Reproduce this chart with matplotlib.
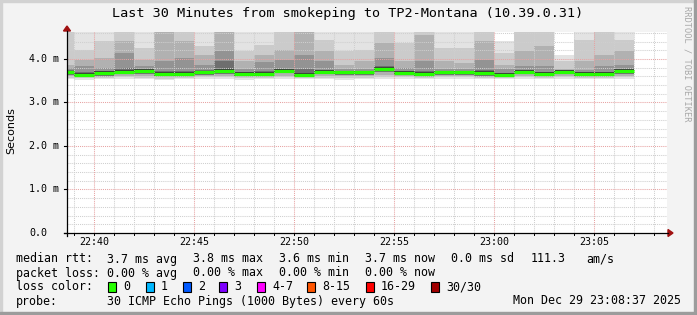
import matplotlib
matplotlib.use("Agg")
import matplotlib.pyplot as plt
from matplotlib.patches import Polygon, Rectangle
from matplotlib.lines import Line2D

W, H = 697, 315

# one column per minute, starting 22:38 (minutes after 22:00)
col_start = list(range(38, 67))

median = [3.69, 3.63, 3.67, 3.71, 3.73, 3.65, 3.65, 3.69, 3.72, 3.66, 3.66, 3.73, 3.64, 3.70, 3.69,
          3.69, 3.78, 3.67, 3.65, 3.69, 3.69, 3.67, 3.63, 3.70, 3.66, 3.70, 3.65, 3.65, 3.72]

# smoke bands, outer to inner (upper edges), ms
hi1 = [4.90, 4.90, 4.90, 4.90, 4.90, 5.00, 4.90, 4.90, 5.00, 4.90, 4.90, 4.90, 5.00, 4.90, 4.90,
       4.90, 4.90, 4.90, 4.90, 4.90, 4.90, 4.90, 4.41, 4.90, 4.90, 4.10, 4.90, 4.90, 4.90]
hi2 = [4.80, 4.21, 4.41, 4.80, 4.25, 4.90, 4.80, 4.29, 4.90, 4.18, 4.33, 4.80, 4.90, 4.44, 4.18,
       4.21, 4.80, 4.37, 4.80, 4.25, 4.25, 4.80, 4.14, 4.80, 4.80, 3.95, 4.44, 4.80, 4.44]
hi3 = [3.87, 3.98, 4.02, 4.41, 3.98, 4.80, 4.41, 4.10, 4.80, 3.95, 4.10, 4.21, 4.80, 4.18, 3.87,
       3.95, 4.37, 3.95, 4.56, 3.95, 3.91, 4.41, 3.87, 4.18, 4.29, 3.76, 3.95, 4.10, 4.18]
hi4 = [3.80, 3.85, 3.80, 4.14, 3.83, 3.95, 4.02, 3.87, 4.18, 3.78, 3.93, 3.98, 4.10, 3.95, 3.78,
       3.78, 4.02, 3.80, 3.95, 3.78, 3.78, 3.98, 3.76, 3.83, 3.83, 3.75, 3.75, 3.83, 3.87]
hi5 = [3.74, 3.70, 3.72, 3.80, 3.77, 3.72, 3.72, 3.74, 3.95, 3.71, 3.72, 3.78, 3.78, 3.75, 3.73,
       3.73, 3.85, 3.72, 3.72, 3.73, 3.72, 3.75, 3.68, 3.74, 3.71, 3.74, 3.69, 3.70, 3.78]
# lower edges
lo1 = [3.54, 3.52, 3.54, 3.55, 3.53, 3.51, 3.53, 3.55, 3.55, 3.52, 3.53, 3.55, 3.53, 3.54, 3.51,
       3.54, 3.55, 3.55, 3.53, 3.55, 3.55, 3.54, 3.53, 3.55, 3.54, 3.55, 3.54, 3.55, 3.55]
lo2 = [3.57, 3.56, 3.57, 3.58, 3.57, 3.55, 3.56, 3.58, 3.58, 3.56, 3.56, 3.58, 3.56, 3.57, 3.56,
       3.57, 3.59, 3.58, 3.56, 3.58, 3.58, 3.57, 3.56, 3.58, 3.57, 3.58, 3.57, 3.57, 3.58]
lo3 = [3.60, 3.58, 3.59, 3.61, 3.61, 3.58, 3.58, 3.60, 3.61, 3.59, 3.59, 3.62, 3.58, 3.60, 3.60,
       3.60, 3.63, 3.60, 3.58, 3.60, 3.60, 3.59, 3.58, 3.61, 3.59, 3.61, 3.59, 3.59, 3.62]
lo4 = [3.63, 3.60, 3.62, 3.65, 3.66, 3.61, 3.61, 3.64, 3.66, 3.62, 3.62, 3.67, 3.60, 3.65, 3.64,
       3.64, 3.70, 3.63, 3.61, 3.64, 3.64, 3.62, 3.59, 3.65, 3.62, 3.65, 3.61, 3.61, 3.66]

band_colors = ["#e3e3e3", "#cbcbcb", "#b1b1b1", "#939393", "#6e6e6e"]
RIM = 0.045

x_ticks = [40, 45, 50, 55, 60, 65]
x_labels = ["22:40", "22:45", "22:50", "22:55", "23:00", "23:05"]
y_ticks = [0.0, 1.0, 2.0, 3.0, 4.0]
y_labels = ["0.0", "1.0 m", "2.0 m", "3.0 m", "4.0 m"]

loss_labels = ["0", "1", "2", "3", "4-7", "8-15", "16-29", "30/30"]
loss_colors = ["#26ff00", "#00b8ff", "#0059ff", "#7e00ff", "#ff00ff", "#ff5500", "#ff0000", "#a10000"]

stats_rtt = ["3.7 ms avg", "3.8 ms max", "3.6 ms min", "3.7 ms now", "0.0 ms sd", "111.3", "am/s"]
stats_loss = ["0.00 % avg", "0.00 % max", "0.00 % min", "0.00 % now"]

MONO = "DejaVu Sans Mono"


def fx(px):
    return px / W


def fy(py):
    return 1 - py / H


fig = plt.figure(figsize=(W / 100, H / 100), dpi=100, facecolor="#f3f3f3")

# frame shading
fig.patches.append(Rectangle((0, fy(2)), 1, 2 / H, transform=fig.transFigure, color="#d2d2d2", zorder=0))
fig.patches.append(Rectangle((0, 0), 2 / W, 1, transform=fig.transFigure, color="#d2d2d2", zorder=0))
fig.patches.append(Rectangle((fx(694), 0), 3 / W, 1, transform=fig.transFigure, color="#9c9c9c", zorder=0))
fig.patches.append(Rectangle((0, 0), 1, 3 / H, transform=fig.transFigure, color="#9c9c9c", zorder=0))

x0, x1, y0, y1 = 67, 667, 32, 233
ax = fig.add_axes([fx(x0), fy(y1), (x1 - x0) / W, (y1 - y0) / H])
ax.set_facecolor("white")
xmin, xmax = 38.65, 68.65
ymax = 4.62
ax.set_xlim(xmin, xmax)
ax.set_ylim(0, ymax)
for s in ax.spines.values():
    s.set_visible(False)
ax.set_xticks([])
ax.set_yticks([])

# smoke
his = [hi1, hi2, hi3, hi4, hi5]
los = [lo1, lo2, lo3, lo4, lo4]
for k in range(5):
    bottoms = los[k]
    heights = [h - b for h, b in zip(his[k], bottoms)]
    ax.bar(col_start, heights, width=1, bottom=bottoms, align="edge",
           color=band_colors[k], lw=0, zorder=2)
ax.bar(col_start, [2 * RIM] * len(median), width=1, bottom=[m - RIM for m in median],
       align="edge", color="#3a3a3a", lw=0, zorder=3)

# grid drawn over the smoke, like rrdtool
dots = (0, (1, 1))
for m in range(39, 69):
    if m % 5 == 0:
        continue
    ax.axvline(m, color="#cfcfcf", lw=0.75, ls=dots, zorder=4)
for i in range(1, 24):
    v = i * 0.2
    if abs(v - round(v)) < 1e-6:
        continue
    ax.axhline(v, color="#cfcfcf", lw=0.75, ls=dots, zorder=4)
for t in x_ticks:
    ax.axvline(t, color="#e7a3a3", lw=0.75, ls=dots, zorder=4)
for v in y_ticks[1:]:
    ax.axhline(v, color="#e7a3a3", lw=0.75, ls=dots, zorder=4)

ax.hlines(median, col_start, [c + 1 for c in col_start], color="#26ff00", lw=2.3, zorder=5)

# axes lines and arrows
fig.lines.append(Line2D([fx(64), fx(668)], [fy(233), fy(233)], transform=fig.transFigure, color="black", lw=0.9))
fig.lines.append(Line2D([fx(67), fx(67)], [fy(236), fy(31)], transform=fig.transFigure, color="black", lw=0.9))
fig.patches.append(Polygon([[fx(668), fy(229.5)], [fx(668), fy(236.5)], [fx(673), fy(233)]],
                           closed=True, transform=fig.transFigure, color="#a01010"))
fig.patches.append(Polygon([[fx(63.5), fy(31)], [fx(70.5), fy(31)], [fx(67), fy(26)]],
                           closed=True, transform=fig.transFigure, color="#a01010"))

# tick labels and tick marks
for t, lab in zip(x_ticks, x_labels):
    px = x0 + (t - xmin) / (xmax - xmin) * (x1 - x0)
    fig.text(fx(px), fy(242), lab, ha="center", va="center", family=MONO, fontsize=7.2)
for m in range(39, 69):
    px = x0 + (m - xmin) / (xmax - xmin) * (x1 - x0)
    fig.lines.append(Line2D([fx(px), fx(px)], [fy(233), fy(235)], transform=fig.transFigure, color="black", lw=0.7))
for v, lab in zip(y_ticks, y_labels):
    py = y1 - v / ymax * (y1 - y0)
    fig.text(fx(29), fy(py), lab, ha="left", va="center", family=MONO, fontsize=7.2)
    fig.lines.append(Line2D([fx(64), fx(67)], [fy(py), fy(py)], transform=fig.transFigure, color="black", lw=0.8))

fig.text(fx(11), fy(131), "Seconds", rotation=90, ha="center", va="center", fontsize=8)
fig.text(fx(348), fy(14), "Last 30 Minutes from smokeping to TP2-Montana (10.39.0.31)",
         ha="center", va="center", family=MONO, fontsize=9.7)
fig.text(fx(687), fy(6), "RRDTOOL / TOBI OETIKER", rotation=270, ha="center", va="top",
         family=MONO, fontsize=6.2, color="#a8a8a8")

# legend
LF = 8.4
fig.text(fx(16), fy(259), "median rtt:", ha="left", va="center", family=MONO, fontsize=LF)
for s, px in zip(stats_rtt, [107, 193, 279, 365, 451, 531, 586]):
    fig.text(fx(px), fy(259), s, ha="left", va="center", family=MONO, fontsize=LF)
fig.text(fx(16), fy(273), "packet loss:", ha="left", va="center", family=MONO, fontsize=LF)
for s, px in zip(stats_loss, [107, 193, 279, 365]):
    fig.text(fx(px), fy(273), s, ha="left", va="center", family=MONO, fontsize=LF)
fig.text(fx(16), fy(287), "loss color:", ha="left", va="center", family=MONO, fontsize=LF)
box_x = [108, 146, 183, 219, 257, 307, 366, 431]
for lab, c, bx in zip(loss_labels, loss_colors, box_x):
    fig.patches.append(Rectangle((fx(bx), fy(292)), 8 / W, 10 / H, transform=fig.transFigure,
                                 facecolor=c, edgecolor="black", lw=0.8))
    fig.text(fx(bx + 15), fy(287), lab, ha="left", va="center", family=MONO, fontsize=LF)
fig.text(fx(16), fy(301), "probe:", ha="left", va="center", family=MONO, fontsize=LF)
fig.text(fx(107), fy(301), "30 ICMP Echo Pings (1000 Bytes) every 60s", ha="left", va="center",
         family=MONO, fontsize=LF)
fig.text(fx(681), fy(301), "Mon Dec 29 23:08:37 2025", ha="right", va="center", family=MONO, fontsize=LF)

fig.savefig("out.png", dpi=100, facecolor=fig.get_facecolor())
